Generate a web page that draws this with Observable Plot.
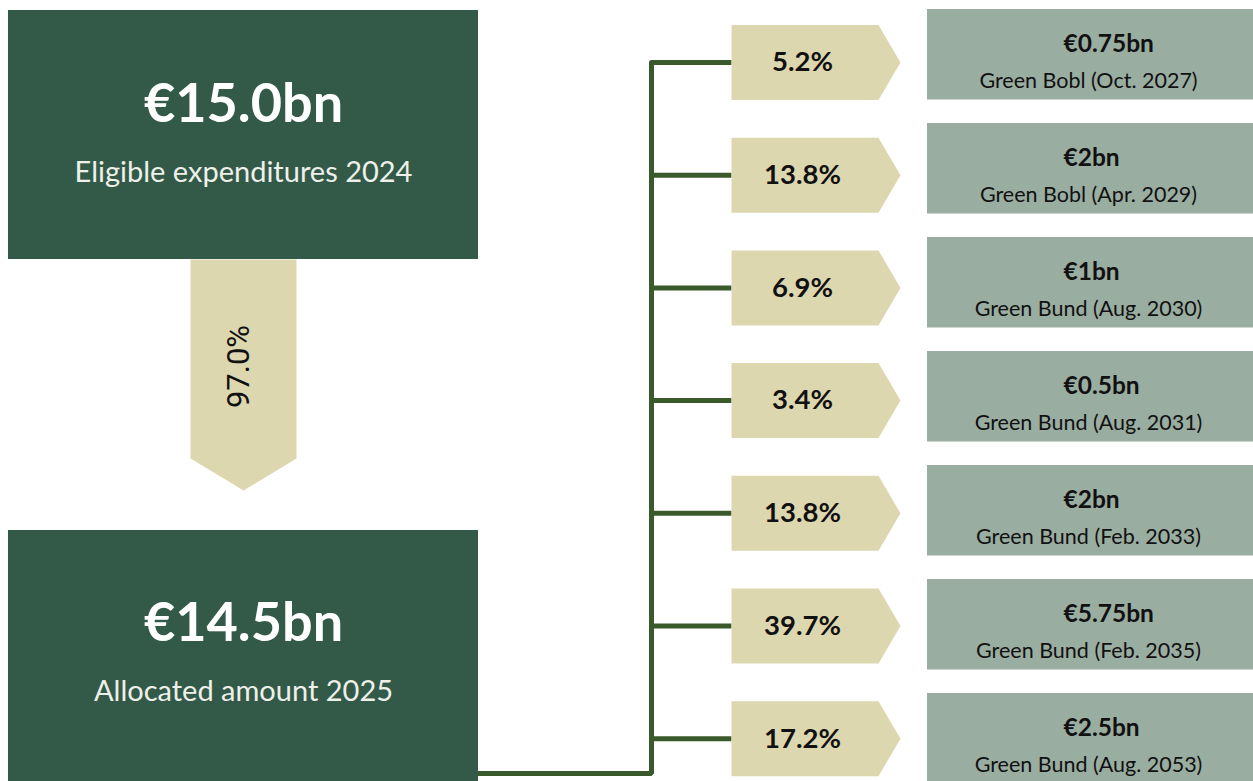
<!DOCTYPE html>
<html><head><meta charset="utf-8">
<script src="https://cdn.jsdelivr.net/npm/d3@7"></script>
<script src="https://cdn.jsdelivr.net/npm/@observablehq/plot@0.6"></script>
<style>body{margin:0;background:#fff}</style>
</head><body><div id="chart"></div>
<script>
// ---- data ----
const shares = ["5.2%", "13.8%", "6.9%", "3.4%", "13.8%", "39.7%", "17.2%"];
const amounts = ["€0.75bn", "€2bn", "€1bn", "€0.5bn", "€2bn", "€5.75bn", "€2.5bn"];
const bonds = ["Green Bobl (Oct. 2027)", "Green Bobl (Apr. 2029)", "Green Bund (Aug. 2030)", "Green Bund (Aug. 2031)", "Green Bund (Feb. 2033)", "Green Bund (Feb. 2035)", "Green Bund (Aug. 2053)"];
const totals = ["€15.0bn", "€14.5bn"];
const totalLabels = ["Eligible expenditures 2024", "Allocated amount 2025"];
const allocationShare = "97.0%";

// ---- layout ----
const W = 1253, H = 781;
const FONT = "Lato, 'Open Sans', sans-serif";
const C_DARK = "#335a48", C_TAN = "#ddd7b0", C_BOX = "#9aada1", C_LINE = "#3b5a2b";
const rowC = i => 62 + i * 112.7;          // pentagon centre
const boxTop = i => 9 + i * 114;            // right box top
const BOX_H = 90.5;
const PX0 = 731, PX1 = 878, PTIP = 900, PH = 37.5;
const BX0 = 927, BX1 = 1253;
const LX0 = 8, LX1 = 478;
const trunk = 651;

const leftBoxes = totals.map((t, k) => ({
  total: t, label: totalLabels[k],
  y1: k === 0 ? 10 : 530, y2: k === 0 ? 259 : 781,
  ty: k === 0 ? 104 : 623, ly: k === 0 ? 172 : 691
}));

const rows = shares.map((s, i) => ({share: s, amount: amounts[i], bond: bonds[i], i, c: rowC(i), top: boxTop(i)}));

const pentagons = rows.flatMap(r => [
  {x: PX0, y: r.c - PH, z: r.i}, {x: PX1, y: r.c - PH, z: r.i},
  {x: PTIP, y: r.c, z: r.i}, {x: PX1, y: r.c + PH, z: r.i},
  {x: PX0, y: r.c + PH, z: r.i}
]);

const downArrow = [
  {x: 190, y: 259}, {x: 296, y: 259}, {x: 296, y: 458},
  {x: 243, y: 490}, {x: 190, y: 458}
];

const connector = [
  {x: LX1 - 1, y: 773}, {x: trunk, y: 773}, {x: trunk, y: rowC(0)}
];

const chart = Plot.plot({
  width: W, height: H,
  margin: 0,
  x: {domain: [0, W], range: [0, W], axis: null},
  y: {domain: [0, H], range: [0, H], axis: null},
  marks: [
    // connector
    Plot.line(connector, {x: "x", y: "y", stroke: C_LINE, strokeWidth: 5, strokeLinejoin: "miter"}),
    Plot.link(rows, {x1: trunk, x2: PX0, y1: "c", y2: "c", stroke: C_LINE, strokeWidth: 5}),
    // left boxes
    Plot.rect(leftBoxes, {x1: LX0, x2: LX1, y1: "y1", y2: "y2", fill: C_DARK}),
    Plot.text(leftBoxes, {x: (LX0 + LX1) / 2, y: "ty", text: "total", fill: "white", fontSize: 54, fontWeight: "bold", fontFamily: FONT}),
    Plot.text(leftBoxes, {x: (LX0 + LX1) / 2, y: "ly", text: "label", fill: "#eef0ea", fontSize: 29, fontFamily: FONT}),
    // down arrow
    Plot.line(downArrow, {x: "x", y: "y", fill: C_TAN, stroke: "none"}),
    Plot.text([allocationShare], {x: 239, y: 366, text: d => d, rotate: -90, fill: "#111", fontSize: 31, fontFamily: "Roboto, sans-serif"}),
    // pentagons
    Plot.line(pentagons, {x: "x", y: "y", z: "z", fill: C_TAN, stroke: "none"}),
    Plot.text(rows, {x: 802, y: "c", text: "share", fill: "#111", fontSize: 27.5, fontWeight: "bold", fontFamily: FONT}),
    // right boxes
    Plot.rect(rows, {x1: BX0, x2: BX1, y1: "top", y2: r => r.top + BOX_H, fill: C_BOX}),
    Plot.text(rows, {x: 1063, y: r => r.top + 35, text: "amount", textAnchor: "start", fill: "#111", fontSize: 24.5, fontWeight: "bold", fontFamily: FONT}),
    Plot.text(rows, {x: 1088, y: r => r.top + 72, text: "bond", fill: "#111", fontSize: 21.5, fontFamily: FONT})
  ]
});
document.getElementById("chart").appendChild(chart);
</script>
</body></html>
